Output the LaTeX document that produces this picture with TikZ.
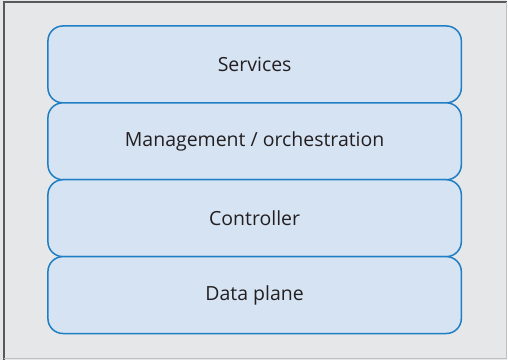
\documentclass[tikz,border=0pt]{standalone}
\usepackage{fontspec}
\setmainfont{Open Sans}
\usetikzlibrary{positioning}

\definecolor{layerblue}{RGB}{31,126,196}
\definecolor{layerfill}{RGB}{213,227,243}
\definecolor{panelgray}{RGB}{230,231,232}
\definecolor{textdark}{RGB}{35,31,32}

\begin{document}
\begin{tikzpicture}[
				x=1pt, y=1pt,
				node distance=0pt,
				layer/.style={rectangle, rounded corners=15pt, draw=layerblue, line width=1.5pt, fill=layerfill, outer sep=0pt, minimum width=414pt, minimum height=77pt, align=center, text=textdark, font=\fontsize{19.5}{22}\selectfont}
				]
				% Panel
				\fill[panelgray] (0,0) rectangle (508,361);
				\draw[black!65, line width=1.5pt] (4,0) -- (4,359) -- (508,359);
				\draw[black!25, line width=1.5pt] (4,2) -- (507,2) -- (507,359);
				\useasboundingbox (0,0) rectangle (508,361);
				
				% Layers
				\node (services) [layer] at (255,296.5) {Services};
				\node (mgmt) [layer, below=of services] {Management / orchestration};
				\node (ctrl) [layer, below=of mgmt] {Controller};
				\node (data) [layer, below=of ctrl] {Data plane};
			\end{tikzpicture}
\end{document}
